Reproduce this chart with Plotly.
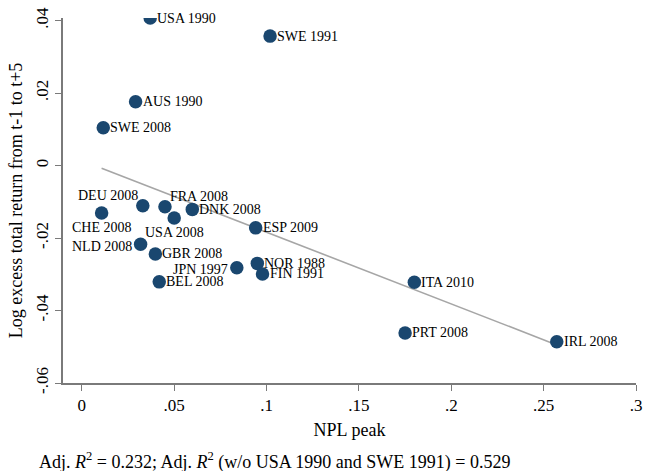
import numpy as np
import plotly.graph_objects as go

# Banking crises: peak non-performing loans vs. subsequent bank stock returns
labels = ["USA 1990", "SWE 1991", "AUS 1990", "SWE 2008", "CHE 2008", "DEU 2008",
          "FRA 2008", "USA 2008", "DNK 2008", "ESP 2009", "NLD 2008", "GBR 2008",
          "JPN 1997", "NOR 1988", "FIN 1991", "BEL 2008", "ITA 2010", "PRT 2008",
          "IRL 2008"]
npl_peak = [0.0370, 0.1019, 0.0291, 0.0116, 0.0107, 0.0330,
            0.0450, 0.0500, 0.0598, 0.0941, 0.0318, 0.0398,
            0.0839, 0.0950, 0.0978, 0.0419, 0.1800, 0.1750,
            0.2571]
excess_return = [0.0407, 0.0357, 0.0176, 0.0104, -0.0131, -0.0111,
                 -0.0114, -0.0145, -0.0121, -0.0172, -0.0217, -0.0244,
                 -0.0282, -0.0270, -0.0299, -0.0321, -0.0322, -0.0462,
                 -0.0486]
x_ticks = [0, 0.05, 0.1, 0.15, 0.2, 0.25, 0.3]
x_tick_text = ["0", ".05", ".1", ".15", ".2", ".25", ".3"]
y_ticks = [-0.06, -0.04, -0.02, 0, 0.02, 0.04]
y_tick_text = ["-.06", "-.04", "-.02", "0", ".02", ".04"]

# marker-label placement (clock-style), default is to the right
label_pos = {"CHE 2008": "below", "USA 2008": "below", "DEU 2008": "upleft",
             "FRA 2008": "upright", "NLD 2008": "left", "JPN 1997": "left"}

FONT = "Liberation Serif, Times New Roman, serif"
NAVY = "#1a476f"
AXIS = "#7a7a7a"

x = np.array(npl_peak)
y = np.array(excess_return)
slope, intercept = np.polyfit(x, y, 1)
fit_x = np.array([x.min(), x.max()])
fit_y = intercept + slope * fit_x

fig = go.Figure()
fig.add_trace(go.Scatter(x=fit_x, y=fit_y, mode="lines",
                         line=dict(color="#a6a6a6", width=1.6),
                         hoverinfo="skip", showlegend=False))
fig.add_trace(go.Scatter(x=npl_peak, y=excess_return, mode="markers",
                         marker=dict(color=NAVY, size=13.5, line=dict(width=0)),
                         text=labels, hoverinfo="text", showlegend=False))

anchors = {
    "right": dict(xanchor="left", yanchor="middle", xshift=5, yshift=0),
    "left": dict(xanchor="right", yanchor="middle", xshift=-7, yshift=-2),
    "below": dict(xanchor="center", yanchor="middle", xshift=0, yshift=-14),
    "upleft": dict(xanchor="right", yanchor="middle", xshift=-3, yshift=10),
    "upright": dict(xanchor="left", yanchor="middle", xshift=3, yshift=10),
}
for lab, xv, yv in zip(labels, npl_peak, excess_return):
    a = anchors[label_pos.get(lab, "right")]
    fig.add_annotation(x=xv, y=yv, text=lab, showarrow=False,
                       font=dict(family=FONT, size=14, color="black"), **a)

fig.add_annotation(
    text="Adj. <i>R</i><sup>2</sup> = 0.232; Adj. <i>R</i><sup>2</sup> (w/o USA 1990 and SWE 1991) = 0.529",
    xref="paper", yref="paper", x=-0.045, y=-0.215, xanchor="left", yanchor="middle",
    showarrow=False, font=dict(family=FONT, size=18, color="black"))

fig.update_layout(
    width=649, height=471,
    margin=dict(l=63, r=7, t=13, b=88),
    paper_bgcolor="white", plot_bgcolor="white",
    font=dict(family=FONT, size=17, color="black"),
    xaxis=dict(range=[-0.0102, 0.3], tickvals=x_ticks, ticktext=x_tick_text,
               showgrid=False, zeroline=False, showline=True, linecolor=AXIS,
               linewidth=1.5, ticks="outside", ticklen=6, tickcolor=AXIS,
               tickwidth=1.2, tickfont=dict(size=17),
               title=dict(text="NPL peak", font=dict(size=18), standoff=9)),
    yaxis=dict(range=[-0.06, 0.0407], tickvals=y_ticks, ticktext=y_tick_text,
               showgrid=False, zeroline=False, showline=True, linecolor=AXIS,
               linewidth=1.5, ticks="outside", ticklen=6, tickcolor=AXIS,
               tickwidth=1.2, tickangle=-90, tickfont=dict(size=17),
               title=dict(text="Log excess total return from t-1 to t+5",
                          font=dict(size=18), standoff=6)),
)

fig.write_html("out.html")
